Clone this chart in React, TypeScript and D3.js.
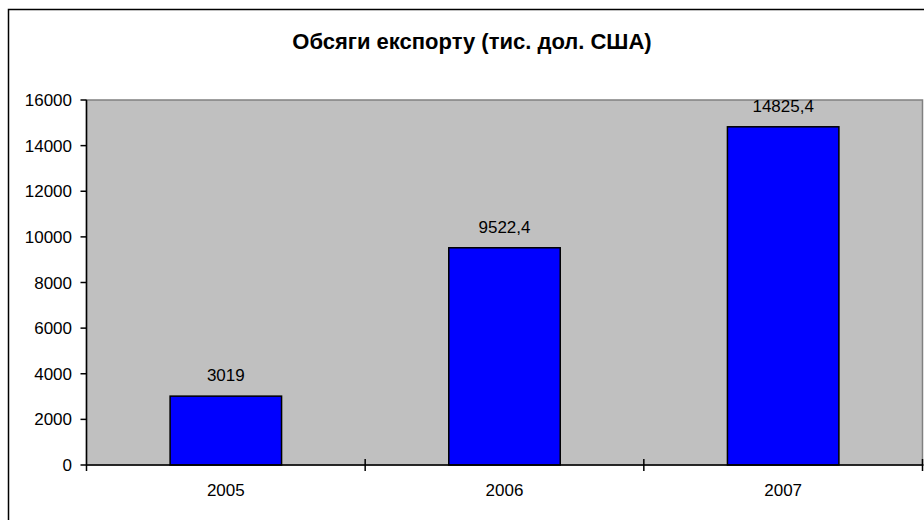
import React from "react";
import * as d3 from "d3";

const categories = ["2005", "2006", "2007"];
const values = [3019, 9522.4, 14825.4];
const valueLabels = ["3019", "9522,4", "14825,4"];
const yTicks = [0, 2000, 4000, 6000, 8000, 10000, 12000, 14000, 16000];
const title = "Обсяги експорту (тис. дол. США)";

export default function App() {
  const W = 924, H = 520;
  const left = 86.5, right = 922.5, top = 100, bottom = 465;
  const x = d3.scaleBand<string>().domain(categories).range([left, right]).paddingInner(0.6).paddingOuter(0.3);
  const y = d3.scaleLinear().domain([0, 16000]).range([bottom, top]);
  const step = (right - left) / categories.length;
  const font = "Arial, 'Liberation Sans', sans-serif";
  return (
    <svg width={W} height={H} style={{ position: "absolute", left: 0, top: 0 }} fontFamily={font}>
      <rect x={0} y={0} width={W} height={H} fill="#fff" />
      <rect x={8.5} y={9.5} width={2000} height={2000} fill="none" stroke="#000" strokeWidth={1.5} />
      <text x={472} y={49} textAnchor="middle" fontSize={22} fontWeight="bold" fill="#000">{title}</text>
      <rect x={left} y={top} width={right - left} height={bottom - top} fill="#C0C0C0" stroke="#808080" strokeWidth={1.5} />
      {categories.map((c, i) => (
        <rect key={c} x={x(c)} y={y(values[i])} width={x.bandwidth()} height={bottom - y(values[i])} fill="#0000FF" stroke="#000" strokeWidth={1.5} />
      ))}
      {categories.map((c, i) => (
        <text key={"l" + c} x={x(c)! + x.bandwidth() / 2} y={y(values[i]) - 15} textAnchor="middle" fontSize={17} fill="#000">{valueLabels[i]}</text>
      ))}
      <line x1={left} x2={left} y1={top} y2={bottom + 6} stroke="#000" strokeWidth={1.5} />
      <line x1={left} x2={right + 1} y1={bottom} y2={bottom} stroke="#000" strokeWidth={1.5} />
      {yTicks.map(t => (
        <g key={t}>
          <line x1={left - 6} x2={left} y1={y(t)} y2={y(t)} stroke="#000" strokeWidth={1.5} />
          <text x={72} y={y(t) + 6} textAnchor="end" fontSize={17} fill="#000">{t}</text>
        </g>
      ))}
      {categories.map((c, i) => (
        <line key={"t" + c} x1={left + step * (i + 1)} x2={left + step * (i + 1)} y1={bottom - 6} y2={bottom + 6} stroke="#000" strokeWidth={1.5} />
      ))}
      {categories.map(c => (
        <text key={"x" + c} x={x(c)! + x.bandwidth() / 2} y={496} textAnchor="middle" fontSize={17} fill="#000">{c}</text>
      ))}
    </svg>
  );
}
